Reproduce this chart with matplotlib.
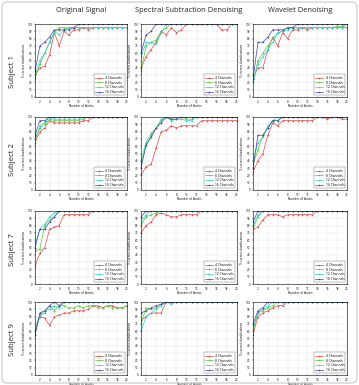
import matplotlib
matplotlib.use('Agg')
import matplotlib.pyplot as plt
import numpy as np
from matplotlib.patches import FancyBboxPatch

plt.rcParams['font.family'] = ['Open Sans', 'DejaVu Sans']

blocks = np.arange(1, 21)
channels = ['4 Channels', '8 Channels', '12 Channels', '16 Channels']
col_titles = ['Original Signal', 'Spectral Subtraction Denoising', 'Wavelet Denoising']
row_titles = ['Subject 1', 'Subject 2', 'Subject 7', 'Subject 9']

# series order: 4, 8, 12, 16 channels
orig_s1 = [[30, 40, 42, 58, 88, 70, 90, 85, 92, 92, 95, 92, 95, 95, 95, 95, 95, 95, 95, 95],
           [25, 45, 60, 75, 88, 95, 95, 95, 95, 95, 95, 95, 95, 95, 95, 95, 95, 95, 95, 95],
           [30, 50, 60, 75, 90, 85, 92, 95, 95, 95, 95, 95, 95, 95, 95, 95, 95, 95, 95, 95],
           [35, 70, 75, 82, 92, 92, 92, 92, 95, 100, 100, 100, 100, 100, 100, 100, 100, 100, 100, 100]]
spec_s1 = [[40, 55, 65, 75, 90, 85, 95, 88, 92, 100, 100, 100, 100, 100, 100, 100, 92, 92, 100, 100],
           [35, 70, 75, 78, 90, 95, 100, 100, 100, 100, 100, 100, 100, 100, 100, 100, 100, 100, 100, 100],
           [55, 75, 75, 72, 88, 100, 100, 100, 100, 100, 100, 100, 100, 100, 100, 100, 100, 100, 100, 100],
           [60, 85, 90, 100, 100, 100, 100, 100, 100, 100, 100, 100, 100, 100, 100, 100, 100, 100, 100, 100]]
wave_s1 = [[25, 40, 40, 65, 82, 70, 88, 80, 92, 92, 95, 92, 95, 95, 95, 95, 95, 95, 95, 95],
           [20, 50, 60, 70, 80, 88, 90, 95, 95, 95, 95, 95, 95, 95, 95, 95, 95, 97, 97, 100],
           [20, 45, 55, 65, 75, 88, 90, 92, 95, 95, 95, 95, 95, 95, 95, 95, 95, 95, 95, 100],
           [25, 75, 75, 82, 92, 92, 92, 95, 95, 100, 100, 100, 100, 100, 100, 100, 100, 100, 100, 100]]

orig_s2 = [[65, 80, 85, 95, 92, 92, 92, 92, 92, 92, 95, 95, 100, 100, 100, 100, 100, 100, 100, 100],
           [68, 85, 90, 97, 95, 95, 95, 95, 95, 95, 97, 100, 100, 100, 100, 100, 100, 100, 100, 100],
           [70, 88, 92, 100, 97, 97, 97, 97, 97, 97, 100, 100, 100, 100, 100, 100, 100, 100, 100, 100],
           [75, 95, 95, 100, 100, 100, 100, 100, 100, 100, 100, 100, 100, 100, 100, 100, 100, 100, 100, 100]]
spec_s2 = [[20, 32, 35, 58, 80, 82, 88, 85, 88, 88, 88, 88, 95, 95, 95, 95, 95, 95, 95, 95],
           [35, 60, 75, 85, 95, 100, 97, 100, 100, 97, 97, 100, 100, 100, 100, 100, 100, 100, 100, 100],
           [40, 65, 78, 85, 97, 100, 95, 97, 97, 95, 95, 100, 100, 100, 100, 100, 100, 100, 100, 100],
           [30, 62, 72, 85, 92, 100, 97, 97, 100, 100, 100, 100, 100, 100, 100, 100, 100, 100, 100, 100]]
wave_s2 = [[25, 40, 50, 75, 92, 88, 95, 95, 95, 95, 95, 95, 95, 100, 100, 97, 100, 100, 97, 97],
           [35, 55, 75, 85, 95, 95, 100, 100, 100, 100, 100, 100, 100, 100, 100, 100, 100, 100, 100, 100],
           [40, 65, 72, 88, 95, 100, 100, 100, 100, 100, 100, 100, 100, 100, 100, 100, 100, 100, 100, 100],
           [30, 75, 75, 85, 95, 95, 100, 100, 100, 100, 100, 100, 100, 100, 100, 100, 100, 100, 100, 100]]

orig_s7 = [[25, 42, 50, 75, 78, 80, 95, 95, 95, 95, 95, 95, 100, 100, 100, 100, 100, 100, 100, 100],
           [45, 48, 80, 88, 92, 100, 100, 100, 100, 100, 100, 100, 100, 100, 100, 100, 100, 100, 100, 100],
           [55, 75, 82, 92, 97, 100, 100, 100, 100, 100, 100, 100, 100, 100, 100, 100, 100, 100, 100, 100],
           [50, 75, 75, 85, 92, 100, 100, 100, 100, 100, 100, 100, 100, 100, 100, 100, 100, 100, 100, 100]]
spec_s7 = [[70, 80, 85, 95, 97, 95, 92, 92, 95, 95, 95, 95, 100, 100, 100, 100, 100, 100, 100, 100],
           [80, 92, 95, 97, 100, 100, 100, 100, 100, 100, 100, 100, 100, 100, 100, 100, 100, 100, 100, 100],
           [85, 95, 100, 100, 100, 100, 100, 100, 100, 100, 100, 100, 100, 100, 100, 100, 100, 100, 100, 100],
           [92, 100, 100, 100, 100, 100, 100, 100, 100, 100, 100, 100, 100, 100, 100, 100, 100, 100, 100, 100]]
wave_s7 = [[75, 78, 88, 95, 95, 95, 92, 95, 95, 95, 95, 95, 95, 100, 100, 100, 100, 100, 100, 100],
           [75, 92, 100, 100, 100, 100, 100, 100, 100, 100, 100, 100, 100, 100, 100, 100, 100, 100, 100, 100],
           [80, 95, 100, 100, 100, 100, 100, 100, 100, 100, 100, 100, 100, 100, 100, 100, 100, 100, 100, 100],
           [85, 100, 100, 100, 100, 100, 100, 100, 100, 100, 100, 100, 100, 100, 100, 100, 100, 100, 100, 100]]

orig_s9 = [[60, 80, 78, 68, 80, 82, 85, 85, 88, 88, 88, 90, 95, 95, 92, 95, 95, 92, 92, 95],
           [55, 82, 85, 95, 88, 95, 95, 92, 92, 95, 92, 95, 95, 92, 92, 95, 92, 92, 92, 95],
           [65, 82, 88, 90, 95, 92, 100, 100, 100, 100, 100, 100, 100, 100, 100, 100, 100, 100, 100, 100],
           [55, 85, 88, 95, 100, 95, 100, 100, 100, 100, 100, 100, 100, 100, 100, 100, 100, 100, 100, 100]]
spec_s9 = [[75, 80, 85, 85, 85, 100, 100, 100, 100, 100, 100, 100, 100, 100, 100, 100, 100, 100, 100, 100],
           [70, 92, 90, 92, 97, 100, 100, 100, 100, 100, 100, 100, 100, 100, 100, 100, 100, 100, 100, 100],
           [60, 80, 85, 90, 95, 100, 97, 100, 100, 100, 100, 100, 100, 100, 100, 100, 100, 100, 100, 100],
           [85, 88, 92, 95, 97, 100, 100, 100, 100, 100, 100, 100, 100, 100, 100, 100, 100, 100, 100, 100]]
wave_s9 = [[55, 80, 85, 88, 92, 95, 95, 100, 100, 100, 100, 100, 100, 100, 100, 100, 100, 100, 100, 100],
           [60, 85, 88, 92, 95, 100, 100, 100, 100, 100, 100, 100, 100, 100, 100, 100, 100, 100, 100, 100],
           [65, 85, 90, 95, 100, 100, 100, 100, 100, 100, 100, 100, 100, 100, 100, 100, 100, 100, 100, 100],
           [70, 88, 92, 100, 100, 100, 100, 100, 100, 100, 100, 100, 100, 100, 100, 100, 100, 100, 100, 100]]

panels = [[orig_s1, spec_s1, wave_s1],
          [orig_s2, spec_s2, wave_s2],
          [orig_s7, spec_s7, wave_s7],
          [orig_s9, spec_s9, wave_s9]]

colors = ['#e04848', '#58c838', '#30d0d0', '#4848a0']

W, H = 359.0, 385.0
fig = plt.figure(figsize=(3.59, 3.85), dpi=100)

# rounded frame around the figure
frame = FancyBboxPatch((2 / W, 2 / H), 1 - 4 / W, 1 - 4 / H, boxstyle='round,pad=0,rounding_size=0.015',
                       transform=fig.transFigure, fill=False, edgecolor='#c8c8c8', linewidth=0.8)
fig.patches.append(frame)

col_left = [35, 141, 253]
col_width = [92, 96, 94]
row_top = [24, 117, 211, 302]
ax_h = 73

for c, t in enumerate(col_titles):
    fig.text((col_left[c] + col_width[c] / 2) / W, 1 - 10 / H, t, ha='center', va='center',
             fontsize=5.4, color='#222222')
row_label_y = [72, 160, 250, 340]
for r, t in enumerate(row_titles):
    fig.text(12 / W, 1 - row_label_y[r] / H, t, ha='center', va='center', rotation=90,
             fontsize=5.6, color='#222222')

for r in range(4):
    for c in range(3):
        ax = fig.add_axes([col_left[c] / W, 1 - (row_top[r] + ax_h) / H, col_width[c] / W, ax_h / H])
        for k, ys in enumerate(panels[r][c]):
            ax.plot(blocks, ys, '-+', color=colors[k], linewidth=0.5, markersize=2,
                    markeredgewidth=0.4, label=channels[k])
        ax.set_xlim(1, 20)
        ax.set_ylim(0, 100)
        ax.set_xticks(np.arange(2, 21, 2))
        ax.set_yticks(np.arange(0, 101, 10))
        ax.tick_params(labelsize=2.2, length=1, width=0.3, pad=1)
        ax.grid(True, linestyle=':', linewidth=0.3, color='#b0b0b0')
        for s in ax.spines.values():
            s.set_linewidth(0.4)
        ax.set_xlabel('Number of blocks', fontsize=2.2, labelpad=0.5)
        ax.set_ylabel('% correct classifications', fontsize=2.2, labelpad=1)
        leg = ax.legend(loc='lower right', fontsize=2.3, handlelength=2.5, borderpad=0.4,
                        labelspacing=0.25, fancybox=False, edgecolor='#444444')
        leg.get_frame().set_linewidth(0.3)

fig.savefig('out.png', dpi=100)
